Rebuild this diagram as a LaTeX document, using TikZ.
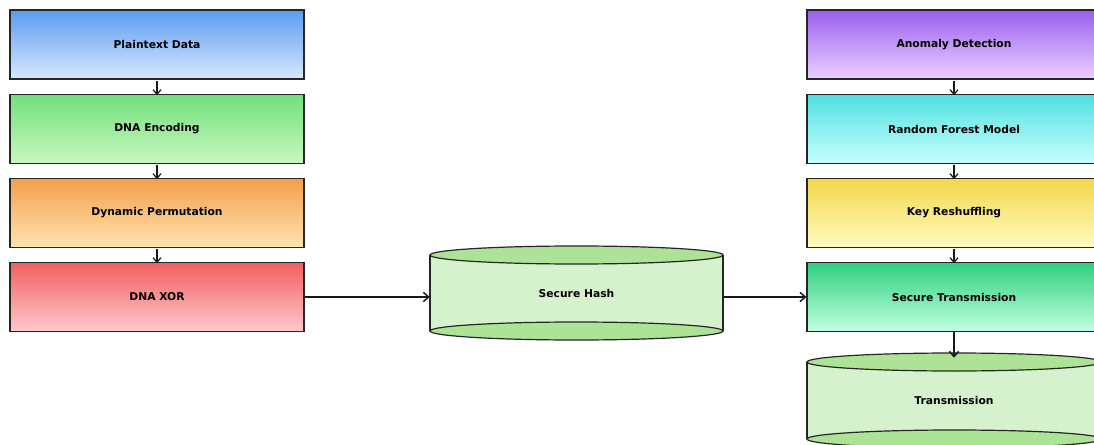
\documentclass[tikz,border=0pt]{standalone}
\usepackage{fontspec}
\setmainfont{DejaVu Sans}
\usetikzlibrary{arrows.meta}
\definecolor{cylbody}{HTML}{D6F2CC}
\definecolor{cyltop}{HTML}{ADE396}
\tikzset{
  box/.style={draw=black!85, line width=0.9pt, rectangle, minimum width=220.5pt, minimum height=51.75pt, inner sep=0pt, font=\fontsize{8.05}{10}\selectfont\bfseries, text=black},
  lbl/.style={draw=none, inner sep=0pt, font=\fontsize{8.05}{10}\selectfont\bfseries, text=black},
  arr/.style={draw=black!90, line width=0.9pt, -{Straight Barb[length=3.5pt,width=6pt,line width=0.9pt]}},
  harr/.style={draw=black!90, line width=1.1pt, -{Straight Barb[length=4pt,width=7pt,line width=1.1pt]}},
  cyl/.style={draw=black!85, line width=0.9pt}
}
\begin{document}
\begin{tikzpicture}[x=0.75pt,y=-0.75pt]
\useasboundingbox (0,0) rectangle (1094,445);
% left column
\node[box, top color={rgb,255:red,91;green,155;blue,239}, bottom color={rgb,255:red,216;green,232;blue,255}] (pd) at (157,44.5) {Plaintext Data};
\node[box, top color={rgb,255:red,114;green,224;blue,122}, bottom color={rgb,255:red,200;green,248;blue,192}] (de) at (157,129) {DNA Encoding};
\node[box, top color={rgb,255:red,242;green,160;blue,74}, bottom color={rgb,255:red,255;green,227;blue,176}] (dp) at (157,213) {Dynamic Permutation};
\node[box, top color={rgb,255:red,240;green,96;blue,96}, bottom color={rgb,255:red,255;green,200;blue,204}] (dx) at (157,297) {DNA XOR};
% right column
\node[box, top color={rgb,255:red,155;green,95;blue,239}, bottom color={rgb,255:red,235;green,208;blue,255}] (ad) at (954,44.5) {Anomaly Detection};
\node[box, top color={rgb,255:red,80;green,224;blue,224}, bottom color={rgb,255:red,200;green,255;blue,255}] (rf) at (954,129) {Random Forest Model};
\node[box, top color={rgb,255:red,242;green,216;blue,74}, bottom color={rgb,255:red,255;green,251;blue,192}] (kr) at (954,213) {Key Reshuffling};
\node[box, top color={rgb,255:red,48;green,208;blue,128}, bottom color={rgb,255:red,192;green,255;blue,224}] (st) at (954,297) {Secure Transmission};
% Secure Hash cylinder
\fill[cylbody] (430,255) rectangle (723,331);
\draw[cyl] (430,255) -- (430,331) (723,255) -- (723,331);
\draw[cyl, fill=cyltop] (576.5,331) ellipse [x radius=109.875pt, y radius=6.75pt];
\draw[cyl, fill=cyltop] (576.5,255) ellipse [x radius=109.875pt, y radius=6.75pt];
\node[lbl, minimum width=219.75pt, minimum height=57pt] (sh) at (576.5,293) {Secure Hash};
% Transmission cylinder
\fill[cylbody] (807,362) rectangle (1101,439);
\draw[cyl] (807,362) -- (807,439) (1101,362) -- (1101,439);
\draw[cyl, fill=cyltop] (954,439) ellipse [x radius=110.25pt, y radius=6.75pt];
\draw[cyl, fill=cyltop] (954,362) ellipse [x radius=110.25pt, y radius=6.75pt];
\node[lbl, minimum width=220.5pt, minimum height=63pt] (tr) at (954,400) {Transmission};
% arrows
\draw[arr] ([yshift=-1pt]pd.south) -- ([yshift=-1pt]de.north);
\draw[arr] ([yshift=-1pt]de.south) -- ([yshift=-1pt]dp.north);
\draw[arr] ([yshift=-1pt]dp.south) -- ([yshift=-1pt]dx.north);
\draw[arr] ([yshift=-1pt]ad.south) -- ([yshift=-1pt]rf.north);
\draw[arr] ([yshift=-1pt]rf.south) -- ([yshift=-1pt]kr.north);
\draw[arr] ([yshift=-1pt]kr.south) -- ([yshift=-1pt]st.north);
\draw[harr] (dx.east) -- (dx.east -| sh.west);
\draw[harr] (st.west -| sh.east) -- (st.west);
\draw[harr] (st.south) -- (tr.north);
\end{tikzpicture}
\end{document}
